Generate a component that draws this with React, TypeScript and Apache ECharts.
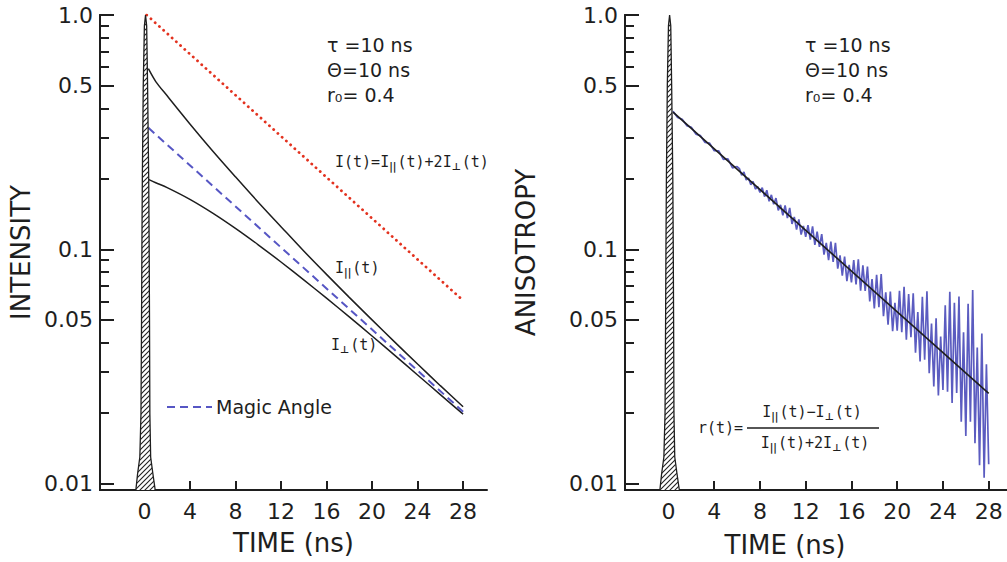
import React, { useEffect, useRef } from 'react';
import * as echarts from 'echarts';

// ---------- data ----------
const xTicks = [0, 4, 8, 12, 16, 20, 24, 28];
const yMajor = [0.01, 0.05, 0.1, 0.5, 1.0];
const yMajorLabels = ['0.01', '0.05', '0.1', '0.5', '1.0'];
const yMinor = [0.02, 0.03, 0.04, 0.06, 0.07, 0.08, 0.09, 0.2, 0.3, 0.4, 0.6, 0.7, 0.8, 0.9];
const xRangeLeft = [-3.9, 30.1];
const xRangeRight = [-3.8, 29.6];
const yRange = [0.0094, 1.0];

// excitation pulse (hatched), both panels
const pulseT = [-0.75, -0.6, -0.4, -0.3, -0.25, -0.22, -0.18, -0.1, 0.0, 0.1, 0.2, 0.28, 0.38, 0.42, 0.45, 0.48, 0.55, 0.75, 0.95];
const pulseV = [0.0094, 0.011, 0.013, 0.02, 0.05, 0.1, 0.2, 0.5, 0.9, 1.0, 0.9, 0.5, 0.2, 0.1, 0.05, 0.02, 0.013, 0.011, 0.0094];

// left panel curves
const totalT = [0.2, 28];
const totalV = [1.0, 0.0605];
const parT = [0.35, 1, 2, 4, 6, 8, 10, 12, 14, 16, 18, 20, 22, 24, 26, 28];
const parV = [0.59, 0.52, 0.452, 0.343, 0.263, 0.204, 0.159, 0.125, 0.0984, 0.0782, 0.0624, 0.05, 0.0402, 0.0324, 0.0262, 0.0213];
const perpT = [0.35, 1, 2, 4, 6, 8, 10, 12, 14, 16, 18, 20, 22, 24, 26, 28];
const perpV = [0.199, 0.1925, 0.1835, 0.1635, 0.1428, 0.1229, 0.1046, 0.0883, 0.0741, 0.0619, 0.0515, 0.0427, 0.0353, 0.0291, 0.024, 0.0198];
const magicT = [0.35, 28];
const magicV = [0.33, 0.0203];

// right panel: measured anisotropy (noisy) and fit
const anisoT = [
  0.4, 0.8, 1.2, 1.6, 2.0, 2.4, 2.8, 3.2, 3.6, 4.0, 4.4, 4.8, 5.2, 5.6, 6.0,
  6.2, 6.4, 6.6, 6.8, 7.0, 7.2, 7.4, 7.6, 7.8, 8.0,
  8.2, 8.4, 8.6, 8.8, 9.0, 9.2, 9.4, 9.6, 9.8, 10.0,
  10.2, 10.4, 10.6, 10.8, 11.0, 11.2, 11.4, 11.6, 11.8, 12.0,
  12.2, 12.4, 12.6, 12.8, 13.0, 13.2, 13.4, 13.6, 13.8, 14.0,
  14.2, 14.4, 14.6, 14.8, 15.0, 15.2, 15.4, 15.6, 15.8, 16.0,
  16.2, 16.4, 16.6, 16.8, 17.0, 17.2, 17.4, 17.6, 17.8, 18.0,
  18.2, 18.4, 18.6, 18.8, 19.0, 19.2, 19.4, 19.6, 19.8, 20.0,
  20.2, 20.4, 20.6, 20.8, 21.0, 21.2, 21.4, 21.6, 21.8, 22.0,
  22.2, 22.4, 22.6, 22.8, 23.0, 23.2, 23.4, 23.6, 23.8, 24.0,
  24.2, 24.4, 24.6, 24.8, 25.0, 25.2, 25.4, 25.6, 25.8, 26.0,
  26.2, 26.4, 26.6, 26.8, 27.0, 27.2, 27.4, 27.6, 27.8, 28.0,
];
const anisoV = [
  0.3881, 0.3651, 0.3591, 0.3374, 0.3321, 0.3102, 0.3056, 0.2858, 0.2841, 0.2635, 0.263, 0.2421, 0.2435, 0.2228, 0.2256,
  0.2212, 0.2073, 0.214, 0.1978, 0.2014, 0.1887, 0.1949, 0.1807, 0.1852, 0.1749,
  0.1834, 0.1679, 0.1788, 0.1603, 0.1708, 0.1557, 0.1655, 0.1467, 0.1549, 0.1398,
  0.1539, 0.1359, 0.1502, 0.1284, 0.1375, 0.1214, 0.1343, 0.1157, 0.1259, 0.113,
  0.1269, 0.11, 0.1253, 0.1045, 0.119, 0.1025, 0.1162, 0.095, 0.1066, 0.0899,
  0.108, 0.0884, 0.1066, 0.0827, 0.0943, 0.0773, 0.0931, 0.0732, 0.0859, 0.0723,
  0.0901, 0.0708, 0.0906, 0.0667, 0.0854, 0.0665, 0.0844, 0.06, 0.0747, 0.056,
  0.0779, 0.0566, 0.0784, 0.0519, 0.0656, 0.0477, 0.066, 0.0447, 0.0592, 0.045,
  0.0665, 0.0443, 0.0692, 0.0412, 0.0644, 0.0422, 0.0649, 0.0362, 0.054, 0.0332,
  0.0628, 0.0338, 0.0662, 0.0296, 0.0482, 0.026, 0.0508, 0.0238, 0.0425, 0.0251,
  0.0577, 0.0247, 0.0659, 0.0221, 0.0591, 0.0244, 0.0629, 0.0184, 0.0443, 0.016,
  0.0586, 0.0184, 0.0671, 0.0149, 0.0381, 0.012, 0.0437, 0.0106, 0.0323, 0.0121,
];
const fitT = [0.4, 28];
const fitV = [0.385, 0.0243];

// ---------- styling ----------
const INK = '#1e1e1e';
const FONT = 'DejaVu Sans';
const MONO = 'DejaVu Sans Mono';
const RED = '#e3321f';
const BLUE_DASH = '#5656c4';
const BLUE_NOISE = '#5b5cc0';

const zip = (a: number[], b: number[]) => a.map((v, i) => [v, b[i]]);

function hatch() {
  const c = document.createElement('canvas');
  c.width = 5;
  c.height = 5;
  const ctx = c.getContext('2d')!;
  ctx.fillStyle = '#ffffff';
  ctx.fillRect(0, 0, 5, 5);
  ctx.strokeStyle = '#222';
  ctx.lineWidth = 1.1;
  ctx.beginPath();
  ctx.moveTo(0, 5); ctx.lineTo(5, 0);
  ctx.moveTo(-1, 1); ctx.lineTo(1, -1);
  ctx.moveTo(4, 6); ctx.lineTo(6, 4);
  ctx.stroke();
  return c;
}

const yLabelFmt = (v: number) => {
  const i = yMajor.findIndex((m) => Math.abs(Math.log10(m) - Math.log10(v)) < 0.01);
  return i >= 0 ? yMajorLabels[i] : '';
};

function xAxisCfg(grid: number, range: number[], name?: string) {
  return {
    gridIndex: grid, type: 'value', min: range[0], max: range[1],
    axisLine: { show: true, onZero: false, lineStyle: { color: INK, width: 2 } },
    axisTick: { show: true, inside: true, length: 9, customValues: xTicks, lineStyle: { color: INK, width: 2 } },
    axisLabel: { show: true, customValues: xTicks, fontSize: 22, color: INK, margin: 10, fontFamily: FONT },
    splitLine: { show: false },
    name: name || '', nameLocation: 'middle', nameGap: 40, nameMoveOverlap: false,
    nameTextStyle: { fontSize: 26, color: INK, fontFamily: FONT },
  };
}
function yMajorCfg(grid: number, name: string, gap: number) {
  return {
    gridIndex: grid, type: 'log', logBase: 10, min: yRange[0], max: yRange[1], position: 'left',
    axisLine: { show: true, onZero: false, lineStyle: { color: INK, width: 2 } },
    axisTick: { show: true, inside: true, length: 14, customValues: yMajor, lineStyle: { color: INK, width: 2 } },
    axisLabel: { show: true, customValues: yMajor, formatter: yLabelFmt, fontSize: 22, color: INK, margin: 7, fontFamily: FONT },
    splitLine: { show: false }, minorTick: { show: false },
    name, nameLocation: 'middle', nameRotate: 90, nameGap: gap, nameMoveOverlap: false,
    nameTextStyle: { fontSize: 26, color: INK, fontFamily: FONT },
  };
}
function yMinorCfg(grid: number) {
  return {
    gridIndex: grid, type: 'log', logBase: 10, min: yRange[0], max: yRange[1], position: 'left',
    axisLine: { show: true, onZero: false, lineStyle: { color: INK, width: 2 } },
    axisTick: { show: true, inside: true, length: 9, customValues: yMinor, lineStyle: { color: INK, width: 2 } },
    axisLabel: { show: false },
    splitLine: { show: false },
  };
}

const mainRich = (size: number) => ({
  m: { fontSize: size, fontFamily: MONO, fill: INK, color: INK, lineHeight: size + 2, verticalAlign: 'top' },
  s: { fontSize: size - 5, fontFamily: FONT, fontWeight: 'bold', fill: INK, color: INK, lineHeight: size - 9, verticalAlign: 'bottom', padding: [0, 1, 0, 0] },
});

function App() {
  const ref = useRef<HTMLDivElement>(null);
  useEffect(() => {
    const chart = echarts.init(ref.current!, null, { renderer: 'svg' });
    const pattern = { image: hatch(), repeat: 'repeat' };
    const pulseSeries = (xi: number) => ({
      type: 'line', xAxisIndex: xi, yAxisIndex: xi * 2, data: zip(pulseT, pulseV),
      symbol: 'none', z: 5,
      lineStyle: { color: INK, width: 1.3 },
      areaStyle: { color: pattern, opacity: 1, origin: 'start' },
    });
    const textEl = (x: number, y: number, text: string, size: number, align = 'left', family = FONT) => ({
      type: 'text', x, y, z: 100,
      style: { text, fontSize: size, fontFamily: family, fill: INK, align, verticalAlign: 'middle' },
    });
    const richEl = (x: number, y: number, text: string, size: number, align = 'left') => ({
      type: 'text', x, y, z: 100,
      style: { text, align, verticalAlign: 'middle', fill: INK, rich: mainRich(size) },
    });
    const option = {
      animation: false,
      backgroundColor: '#ffffff',
      grid: [
        { left: 100, top: 15, width: 387, height: 475, containLabel: false, outerBoundsMode: 'none' },
        { left: 625, top: 15, width: 382, height: 475, containLabel: false, outerBoundsMode: 'none' },
      ],
      xAxis: [xAxisCfg(0, xRangeLeft, 'TIME (ns)'), xAxisCfg(1, xRangeRight)],
      yAxis: [yMajorCfg(0, 'INTENSITY', 66), yMinorCfg(0), yMajorCfg(1, 'ANISOTROPY', 86), yMinorCfg(1)],
      series: [
        { type: 'line', name: 'I(t)', xAxisIndex: 0, yAxisIndex: 0, data: zip(totalT, totalV), symbol: 'none',
          lineStyle: { color: RED, width: 2.8, type: [0.1, 5.6], cap: 'round' } },
        { type: 'line', name: 'I∥(t)', xAxisIndex: 0, yAxisIndex: 0, data: zip(parT, parV), symbol: 'none', smooth: 0.3,
          lineStyle: { color: INK, width: 1.5 } },
        { type: 'line', name: 'I⊥(t)', xAxisIndex: 0, yAxisIndex: 0, data: zip(perpT, perpV), symbol: 'none', smooth: 0.3,
          lineStyle: { color: INK, width: 1.5 } },
        { type: 'line', name: 'Magic Angle', xAxisIndex: 0, yAxisIndex: 0, data: zip(magicT, magicV), symbol: 'none',
          lineStyle: { color: BLUE_DASH, width: 2, type: [8, 5] } },
        pulseSeries(0),
        { type: 'line', name: 'r(t) data', xAxisIndex: 1, yAxisIndex: 2, data: zip(anisoT, anisoV), symbol: 'none',
          lineStyle: { color: BLUE_NOISE, width: 1.7 } },
        { type: 'line', name: 'r(t) fit', xAxisIndex: 1, yAxisIndex: 2, data: zip(fitT, fitV), symbol: 'none', z: 4,
          lineStyle: { color: INK, width: 1.6 } },
        pulseSeries(1),
      ],
      graphic: [
        textEl(327, 45, 'τ =10 ns', 19),
        textEl(327, 70, 'Θ=10 ns', 19),
        textEl(327, 95, 'r₀= 0.4', 19),
        textEl(805, 45, 'τ =10 ns', 19),
        textEl(805, 70, 'Θ=10 ns', 19),
        textEl(805, 95, 'r₀= 0.4', 19),
        richEl(335, 163, '{m|I(t)=I}{s|||}{m|(t)+2I}{s|⊥}{m|(t)}', 15),
        richEl(335, 269, '{m|I}{s|||}{m|(t)}', 15),
        richEl(331, 346, '{m|I}{s|⊥}{m|(t)}', 15),
        { type: 'line', z: 100, shape: { x1: 167, y1: 407, x2: 212, y2: 407 },
          style: { stroke: BLUE_DASH, lineWidth: 2, lineDash: [8, 5] } },
        textEl(216, 407, 'Magic Angle', 19),
        textEl(698, 428, 'r(t)=', 15, 'left', MONO),
        richEl(812, 413, '{m|I}{s|||}{m|(t)−I}{s|⊥}{m|(t)}', 15, 'center'),
        { type: 'line', z: 100, shape: { x1: 747, y1: 428, x2: 879, y2: 428 }, style: { stroke: INK, lineWidth: 1.5 } },
        richEl(815, 444, '{m|I}{s|||}{m|(t)+2I}{s|⊥}{m|(t)}', 15, 'center'),
        textEl(785, 545, 'TIME (ns)', 26, 'center'),
      ],
    };
    chart.setOption(option as any);
    return () => chart.dispose();
  }, []);
  return <div ref={ref} style={{ position: 'fixed', left: 0, top: 0, width: 1007, height: 562, background: '#fff' }} />;
}

export default App;
